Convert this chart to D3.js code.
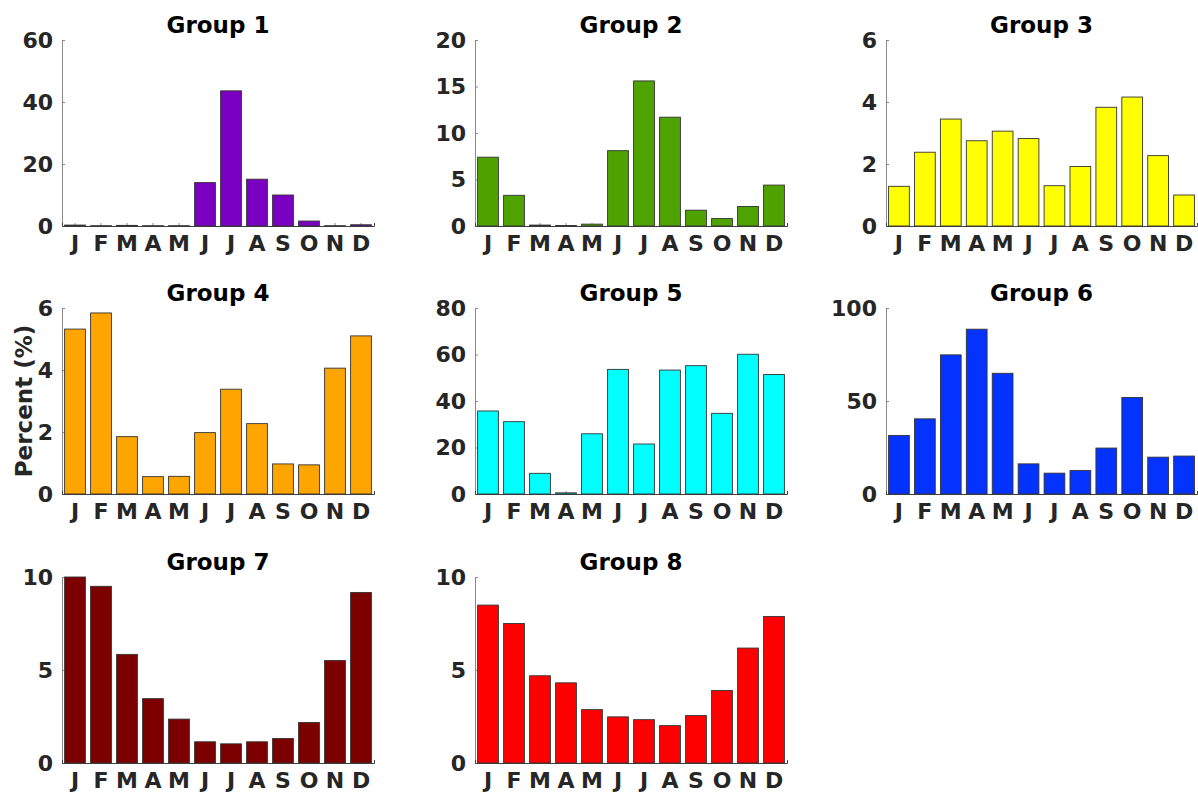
<!DOCTYPE html>
<html>
<head>
<meta charset="utf-8">
<script src="https://cdn.jsdelivr.net/npm/d3@7"></script>
<style>
  body { margin: 0; background: #fff; }
  svg text { font-family: "DejaVu Sans", sans-serif; font-weight: bold; }
</style>
</head>
<body>
<svg id="chart" width="1198" height="794"></svg>
<script>
// ------------ DATA -----------------

const months = ["J", "F", "M", "A", "M", "J", "J", "A", "S", "O", "N", "D"];
const groupNames = ["Group 1", "Group 2", "Group 3", "Group 4", "Group 5", "Group 6", "Group 7", "Group 8"];
const groupColors = ["#7a00c2", "#4ea300", "#ffff00", "#ffa500", "#00ffff", "#0433ff", "#7d0000", "#ff0000"];

const group1 = [0.3, 0.1, 0.2, 0.1, 0.1, 14.0, 43.6, 15.1, 10.0, 1.6, 0.1, 0.4];
const group2 = [7.4, 3.3, 0.1, 0.05, 0.2, 8.1, 15.6, 11.7, 1.7, 0.8, 2.1, 4.4];
const group3 = [1.28, 2.38, 3.45, 2.75, 3.06, 2.82, 1.30, 1.92, 3.83, 4.16, 2.27, 1.0];
const group4 = [5.32, 5.84, 1.85, 0.56, 0.57, 1.98, 3.38, 2.27, 0.97, 0.94, 4.06, 5.10];
const group5 = [35.7, 31.1, 8.9, 0.5, 25.9, 53.6, 21.5, 53.3, 55.2, 34.7, 60.1, 51.4];
const group6 = [31.5, 40.4, 74.8, 88.6, 64.9, 16.2, 11.2, 12.6, 24.7, 51.9, 19.8, 20.4];
const group7 = [10.0, 9.5, 5.84, 3.46, 2.36, 1.14, 1.03, 1.14, 1.32, 2.18, 5.51, 9.17];
const group8 = [8.49, 7.50, 4.69, 4.31, 2.87, 2.48, 2.33, 2.01, 2.55, 3.90, 6.18, 7.88];

const groupValues = [group1, group2, group3, group4, group5, group6, group7, group8];
const yMax = [60, 20, 6, 6, 80, 100, 10, 10];
const yTicks = [
  [0, 20, 40, 60],
  [0, 5, 10, 15, 20],
  [0, 2, 4, 6],
  [0, 2, 4, 6],
  [0, 20, 40, 60, 80],
  [0, 50, 100],
  [0, 5, 10],
  [0, 5, 10]
];
const yLabel = "Percent (%)";

// ------------ LAYOUT -----------------

const colLeft = [62, 475, 886];
const colWidth = [312, 312, 311];
const rowTop = [40, 308, 577];
const plotHeight = 186;

const svg = d3.select("#chart");

groupValues.forEach((values, i) => {
  const row = Math.floor(i / 3);
  const col = i % 3;
  const w = colWidth[col];

  const g = svg.append("g")
    .attr("transform", `translate(${colLeft[col]},${rowTop[row]})`);

  const x = d3.scaleBand()
    .domain(d3.range(12))
    .range([0, w])
    .paddingInner(0.2)
    .paddingOuter(0.1);

  const y = d3.scaleLinear()
    .domain([0, yMax[i]])
    .range([plotHeight, 0]);

  // y axis (ticks point inward, MATLAB style)
  const yAxis = g.append("g")
    .call(d3.axisLeft(y).tickValues(yTicks[i]).tickFormat(d3.format("d")).tickSize(-3).tickPadding(9));
  yAxis.select(".domain").attr("stroke", "#8a8a8a").attr("d", `M0.5,${plotHeight}V0`);
  yAxis.selectAll(".tick line").attr("stroke", "#8a8a8a");
  yAxis.selectAll(".tick text")
    .attr("fill", "#262626")
    .style("font-size", "22px");

  // x axis
  const xAxis = g.append("g")
    .attr("transform", `translate(0,${plotHeight})`)
    .call(d3.axisBottom(x).tickFormat(j => months[j]).tickSize(-3).tickPadding(10));
  xAxis.select(".domain").attr("stroke", "#404040");
  xAxis.selectAll(".tick line").attr("stroke", "#8a8a8a");
  xAxis.selectAll(".tick text")
    .attr("y", 9)
    .attr("fill", "#262626")
    .style("font-size", "22px");

  // bars
  g.append("g").selectAll("rect")
    .data(values)
    .join("rect")
    .attr("x", (d, j) => x(j))
    .attr("width", x.bandwidth())
    .attr("y", d => y(d))
    .attr("height", d => plotHeight - y(d))
    .attr("fill", groupColors[i])
    .attr("stroke", "#333")
    .attr("stroke-width", 0.9);

  // title
  g.append("text")
    .attr("x", w / 2)
    .attr("y", -7)
    .attr("text-anchor", "middle")
    .attr("fill", "#000")
    .style("font-size", "23px")
    .text(groupNames[i]);
});

// shared y label
svg.append("text")
  .attr("transform", `translate(32,${rowTop[1] + plotHeight / 2}) rotate(-90)`)
  .attr("text-anchor", "middle")
  .attr("fill", "#262626")
  .style("font-size", "23px")
  .text(yLabel);
</script>
</body>
</html>
